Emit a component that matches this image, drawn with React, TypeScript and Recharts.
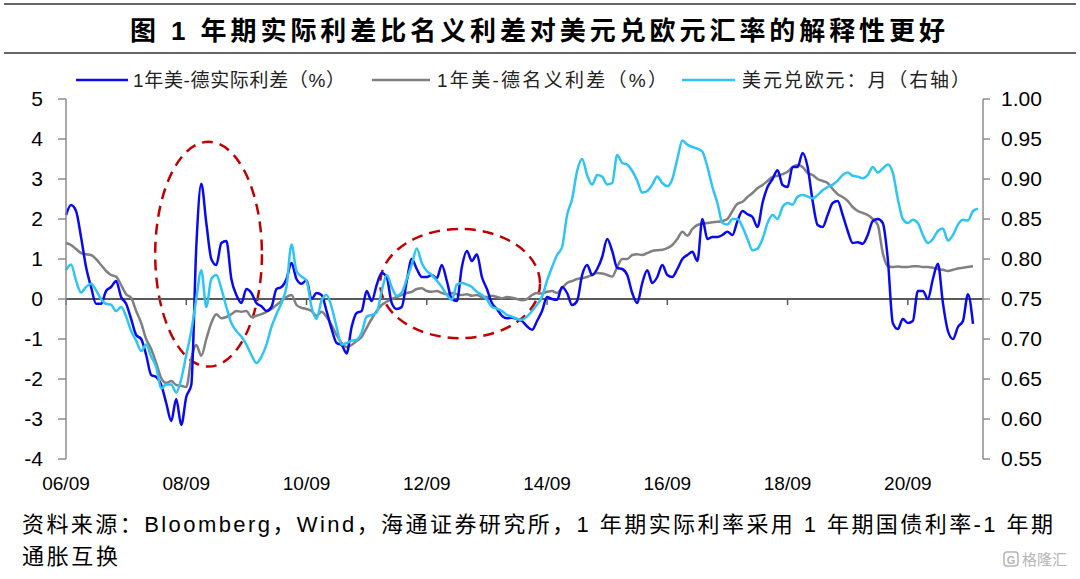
import React from 'react';
import { LineChart, Line, XAxis, YAxis, ReferenceLine, ReferenceArea } from 'recharts';

// Monthly observations, month 0 = 2006/09
const realSpread: (number | null)[] = [
  2.1, 2.35, 2.2, 1.55, 0.8, 0.3, -0.12, -0.12, 0.2, 0.3,
  0.45, 0.05, -0.12, -0.5, -0.9, -1.0, -1.4, -1.9, -1.95, -2.15,
  -2.6, -3.05, -2.5, -3.15, -2.45, -2.15, 1.3, 2.88, 1.9, 1.0,
  0.85, 1.4, 1.45, 0.5, 0.1, -0.1, 0.25, 0.15, -0.1, -0.18,
  -0.3, -0.2, 0.25, 0.3, 0.5, 0.9, 0.5, 0.38, 0.47, 0.0,
  0.15, 0.1, -0.3, -0.75, -1.1, -1.15, -1.36, -0.7, -0.35, -0.3,
  0.2, -0.05, 0.35, 0.65, 0.55, -0.1, -0.25, -0.2, 0.45, 1.0,
  0.75, 0.55, 0.55, 0.6, 0.52, 0.85, 0.45, 0.0, -0.05, 0.8,
  1.2, 0.95, 1.12, 0.55, 0.25, -0.1, -0.25, -0.42, -0.48, -0.47,
  -0.5, -0.55, -0.68, -0.77, -0.55, -0.3, 0.05, 0.0, -0.02, 0.3,
  0.15, -0.15, -0.05, 0.6, 0.85, 0.6, 0.75, 1.05, 1.5, 1.2,
  0.78, 0.75, 0.6, 0.15, -0.1, 0.4, 0.72, 0.4, 0.55, 0.85,
  0.6, 0.55, 0.75, 1.0, 1.1, 1.18, 0.95, 2.0, 1.5, 1.55,
  1.55, 1.6, 1.68, 1.6, 1.95, 2.2, 2.12, 2.05, 1.8, 2.4,
  2.8, 3.0, 3.22, 2.85, 2.8, 3.3, 3.3, 3.65, 3.3, 2.45,
  1.85, 1.8, 2.1, 2.4, 2.45, 2.1, 1.7, 1.4, 1.42, 1.38,
  1.6, 1.95, 2.0, 1.9, 1.0, -0.6, -0.75, -0.5, -0.6, -0.55,
  0.2, 0.2, 0.0, 0.5, 0.88, -0.1, -0.8, -1.0, -0.7, -0.55,
  0.12, -0.62, null,
];

const nominalSpread: (number | null)[] = [
  1.4, 1.35, 1.25, 1.15, 1.12, 1.1, 1.0, 0.85, 0.7, 0.6,
  0.56, 0.35, 0.12, 0.03, -0.3, -0.6, -1.0, -1.25, -1.6, -1.98,
  -2.1, -2.05, -2.15, -2.17, -2.2, -1.5, -1.15, -1.42, -1.0, -0.6,
  -0.38, -0.48, -0.45, -0.38, -0.3, -0.32, -0.3, -0.45, -0.42, -0.38,
  -0.32, -0.25, -0.15, -0.05, 0.05, 0.1, -0.15, -0.22, -0.25, -0.3,
  -0.42, -0.32, -0.45, -0.65, -0.9, -1.1, -1.2, -1.15, -1.05, -0.95,
  -0.72, -0.5, -0.3, -0.15, -0.07, 0.0, 0.05, 0.1, 0.15, 0.18,
  0.25, 0.27, 0.2, 0.18, 0.2, 0.15, 0.12, 0.15, 0.12, 0.1,
  0.12, 0.08, 0.1, 0.05, 0.05, 0.08, 0.05, 0.02, 0.05, 0.03,
  0.0, -0.03, 0.0, 0.1, 0.15, 0.14, 0.18, 0.2, 0.15, 0.27,
  0.4, 0.45, 0.5, 0.52, 0.55, 0.6, 0.65, 0.64, 0.6, 0.56,
  0.8, 1.0, 1.0, 1.1, 1.12, 1.1, 1.15, 1.2, 1.22, 1.23,
  1.27, 1.35, 1.5, 1.68, 1.58, 1.75, 1.85, 1.88, 1.9, 1.92,
  1.93, 1.95, 2.0, 2.2, 2.38, 2.43, 2.55, 2.65, 2.77, 2.85,
  2.95, 3.05, 3.08, 3.12, 3.18, 3.3, 3.35, 3.3, 3.15, 3.1,
  3.0, 2.95, 2.9, 2.75, 2.62, 2.55, 2.45, 2.3, 2.2, 2.15,
  2.1, 2.0, 1.85, 1.15, 0.82, 0.8, 0.81, 0.8, 0.8, 0.82,
  0.82, 0.8, 0.8, 0.78, 0.75, 0.73, 0.7, 0.73, 0.76, 0.78,
  0.8, 0.82, null,
];

const usdEur: number[] = [
  0.786, 0.793, 0.773, 0.758, 0.765, 0.769, 0.761, 0.750, 0.744, 0.743,
  0.735, 0.740, 0.728, 0.710, 0.698, 0.685, 0.693, 0.678, 0.665, 0.638,
  0.643, 0.643, 0.633, 0.650, 0.680, 0.710, 0.750, 0.786, 0.740, 0.775,
  0.780, 0.763, 0.740, 0.720, 0.710, 0.703, 0.693, 0.680, 0.670, 0.678,
  0.693, 0.715, 0.731, 0.745, 0.765, 0.818, 0.785, 0.778, 0.773, 0.740,
  0.725, 0.748, 0.755, 0.740, 0.715, 0.693, 0.695, 0.698, 0.699, 0.708,
  0.728, 0.730, 0.733, 0.760, 0.780, 0.765, 0.754, 0.758, 0.775, 0.793,
  0.813, 0.795, 0.785, 0.780, 0.773, 0.765, 0.755, 0.749, 0.768, 0.770,
  0.768, 0.765, 0.759, 0.755, 0.749, 0.740, 0.738, 0.735, 0.730, 0.728,
  0.725, 0.724, 0.728, 0.735, 0.743, 0.753, 0.773, 0.790, 0.805, 0.815,
  0.855, 0.875, 0.910, 0.925, 0.905, 0.893, 0.905, 0.903, 0.893, 0.895,
  0.930, 0.920, 0.918, 0.910, 0.898, 0.883, 0.885, 0.893, 0.903, 0.895,
  0.891, 0.900, 0.925, 0.948, 0.943, 0.940, 0.938, 0.934, 0.915, 0.890,
  0.870, 0.845, 0.843, 0.850, 0.850, 0.840, 0.825, 0.811, 0.813, 0.825,
  0.845, 0.855, 0.850, 0.865, 0.870, 0.868, 0.878, 0.880, 0.878, 0.876,
  0.880, 0.886, 0.890, 0.893, 0.898, 0.905, 0.908, 0.904, 0.903, 0.901,
  0.905, 0.915, 0.908, 0.913, 0.918, 0.908, 0.875, 0.850, 0.845, 0.849,
  0.845, 0.830, 0.820, 0.825, 0.835, 0.838, 0.823, 0.830, 0.843, 0.849,
  0.848, 0.860, 0.863,
];

const xTickMonths = [0, 24, 48, 72, 96, 120, 144, 168];
const xTickLabels = ['06/09', '08/09', '10/09', '12/09', '14/09', '16/09', '18/09', '20/09'];
const leftTicks = [-4, -3, -2, -1, 0, 1, 2, 3, 4, 5];
const rightTicks = [0.55, 0.6, 0.65, 0.7, 0.75, 0.8, 0.85, 0.9, 0.95, 1.0];

// highlighted windows: [month start, month end, low, high] in left-axis units
const highlightWindows = [
  [17.8, 39.1, -1.69, 3.93],
  [62.7, 94.6, -0.98, 1.75],
];

const data = usdEur.map((fx, i) => ({
  m: i,
  real: realSpread[i],
  nominal: nominalSpread[i],
  fx,
}));

const LATIN = "'Liberation Sans', Arial, 'Noto Sans CJK SC', sans-serif";
const CJK = "'Liberation Sans', 'Noto Sans CJK SC', sans-serif";

const EllipseShape = (props: any) => {
  const { x, y, width, height } = props;
  return (
    <ellipse
      cx={x + width / 2}
      cy={y + height / 2}
      rx={Math.abs(width) / 2}
      ry={Math.abs(height) / 2}
      fill="none"
      stroke="#C00000"
      strokeWidth={2.5}
      strokeDasharray="11 7"
    />
  );
};

export default function App() {
  return (
    <div style={{ position: 'absolute', left: 0, top: 0, width: 1080, height: 579, background: '#fff', overflow: 'hidden' }}>
      <LineChart
        width={1080}
        height={579}
        data={data}
        margin={{ top: 99, right: 0, bottom: 80, left: 0 }}
      >
        <XAxis
          dataKey="m"
          type="number"
          domain={[0, 183]}
          ticks={xTickMonths}
          tickFormatter={(v: number) => xTickLabels[xTickMonths.indexOf(v)] ?? ''}
          axisLine={false}
          tickLine={false}
          tickSize={6}
          tickMargin={12}
          height={40}
          interval={0}
          tick={{ fontSize: 19, fill: '#000', fontFamily: LATIN }}
        />
        <YAxis
          yAxisId="left"
          orientation="left"
          domain={[-4, 5]}
          ticks={leftTicks}
          width={66}
          interval={0}
          axisLine={{ stroke: '#8c8c8c', strokeWidth: 1.5 }}
          tickLine={{ stroke: '#8c8c8c', strokeWidth: 1.5 }}
          tickSize={8}
          tickMargin={15}
          tick={{ fontSize: 21, fill: '#000', fontFamily: LATIN }}
        />
        <YAxis
          yAxisId="right"
          orientation="right"
          domain={[0.55, 1.0]}
          ticks={rightTicks}
          width={97}
          interval={0}
          tickFormatter={(v: number) => v.toFixed(2)}
          axisLine={{ stroke: '#8c8c8c', strokeWidth: 1.5 }}
          tickLine={{ stroke: '#8c8c8c', strokeWidth: 1.5 }}
          tickSize={7}
          tickMargin={11}
          tick={{ fontSize: 21, fill: '#000', fontFamily: LATIN }}
        />
        <ReferenceLine yAxisId="left" y={0} stroke="#5a5a5a" strokeWidth={2} />
        {xTickMonths.map((m) => (
          <ReferenceLine
            key={'t' + m}
            yAxisId="left"
            segment={[{ x: m, y: 0 }, { x: m, y: -0.15 }]}
            stroke="#5a5a5a"
            strokeWidth={1.5}
          />
        ))}
        <Line
          yAxisId="left"
          type="monotone"
          dataKey="nominal"
          stroke="#808080"
          strokeWidth={2.5}
          dot={false}
          isAnimationActive={false}
        />
        <Line
          yAxisId="left"
          type="monotone"
          dataKey="real"
          stroke="#0a0af0"
          strokeWidth={2.5}
          dot={false}
          isAnimationActive={false}
        />
        <Line
          yAxisId="right"
          type="monotone"
          dataKey="fx"
          stroke="#2ec5f5"
          strokeWidth={2.5}
          dot={false}
          isAnimationActive={false}
        />
        {highlightWindows.map((w, i) => (
          <ReferenceArea
            key={'e' + i}
            yAxisId="left"
            x1={w[0]}
            x2={w[1]}
            y1={w[2]}
            y2={w[3]}
            shape={EllipseShape}
          />
        ))}
      </LineChart>
      <svg
        width={1080}
        height={579}
        style={{ position: 'absolute', left: 0, top: 0, pointerEvents: 'none' }}
      >
        <line x1={4} x2={1076} y1={4} y2={4} stroke="#333" strokeWidth={1.5} />
        <line x1={4} x2={1076} y1={53} y2={53} stroke="#333" strokeWidth={1.5} />
        <text x={130} y={40} fontSize={26} fontWeight="bold" fontFamily={CJK} fill="#000" textLength={815} lengthAdjust="spacing">
          图 1 年期实际利差比名义利差对美元兑欧元汇率的解释性更好
        </text>
        <line x1={76} x2={128} y1={80} y2={80} stroke="#0a0af0" strokeWidth={2.5} />
        <text x={133} y={87} fontSize={19} fontFamily={CJK} fill="#222" textLength={212} lengthAdjust="spacing">
          1年美-德实际利差（%）
        </text>
        <line x1={372} x2={430} y1={80} y2={80} stroke="#808080" strokeWidth={2.5} />
        <text x={437} y={87} fontSize={19} fontFamily={CJK} fill="#222" textLength={230} lengthAdjust="spacing">
          1年美-德名义利差（%）
        </text>
        <line x1={682} x2={735} y1={80} y2={80} stroke="#2ec5f5" strokeWidth={2.5} />
        <text x={742} y={87} fontSize={19} fontFamily={CJK} fill="#222" textLength={228} lengthAdjust="spacing">
          美元兑欧元：月（右轴）
        </text>
        <text x={22} y={532} fontSize={22} fontFamily={CJK} fill="#000" textLength={1031} lengthAdjust="spacing">
          资料来源：Bloomberg，Wind，海通证券研究所，1 年期实际利率采用 1 年期国债利率-1 年期
        </text>
        <text x={22} y={564} fontSize={22} fontFamily={CJK} fill="#000" textLength={96} lengthAdjust="spacing">
          通胀互换
        </text>
        <rect x={1004} y={552} width={14} height={14} rx={3} fill="none" stroke="#b5b5b5" strokeWidth={1.5} />
        <text x={1011} y={563.5} fontSize={11} fontFamily={LATIN} fill="#b5b5b5" textAnchor="middle" fontWeight="bold">G</text>
        <text x={1022} y={565} fontSize={15} fontFamily={CJK} fill="#b5b5b5">格隆汇</text>
      </svg>
    </div>
  );
}
